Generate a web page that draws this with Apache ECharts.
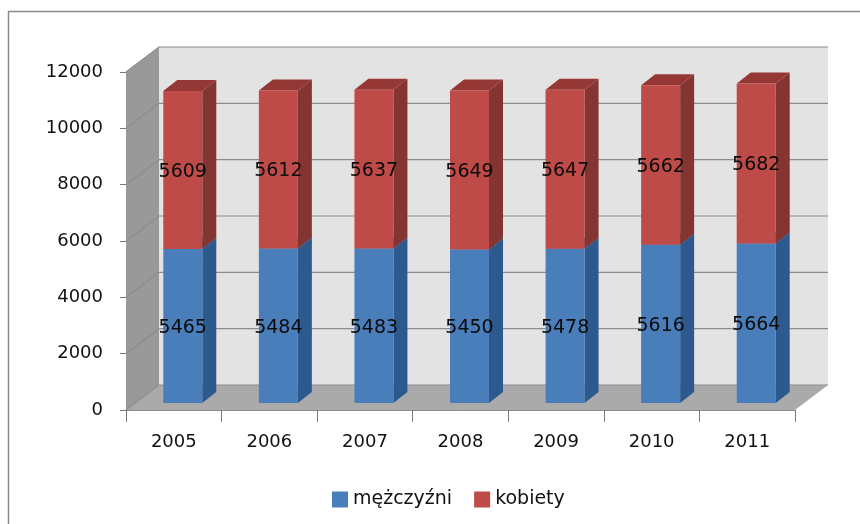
<!DOCTYPE html>
<html>
<head>
<meta charset="utf-8">
<style>
  html, body { margin: 0; padding: 0; background: #fff; }
  #chart { width: 860px; height: 524px; }
</style>
<script src="https://cdn.jsdelivr.net/npm/echarts@6/dist/echarts.min.js"></script>
</head>
<body>
<div id="chart"></div>
<script>
  const years = ['2005', '2006', '2007', '2008', '2009', '2010', '2011'];
  const men = [5465, 5484, 5483, 5450, 5478, 5616, 5664];
  const women = [5609, 5612, 5637, 5649, 5647, 5662, 5682];
  const yTicks = [0, 2000, 4000, 6000, 8000, 10000, 12000];

  const font = '"DejaVu Sans", sans-serif';
  // perspective offsets of the fake 3d box, in pixels
  const wallDx = 33, wallDy = -25;
  const barDx = 9, barDy = -7, barDepthX = 14, barDepthY = -11;
  const barWidth = 39;

  let chart = echarts.init(document.getElementById('chart'));

  function poly(points, fill, z2) {
    return {type: 'polygon', shape: {points}, style: {fill}, z2: z2 || 0};
  }

  function renderWalls(params, api) {
    let r = params.coordSys;
    let l = r.x, t = r.y, b = r.y + r.height, e = r.x + r.width;
    let children = [
      // back wall
      poly([[l + wallDx, t + wallDy], [e + wallDx, t + wallDy], [e + wallDx, b + wallDy], [l + wallDx, b + wallDy]], '#e3e3e3'),
      // left wall
      poly([[l, t], [l + wallDx, t + wallDy], [l + wallDx, b + wallDy], [l, b]], '#999999'),
      // floor
      poly([[l, b], [l + wallDx, b + wallDy], [e + wallDx, b + wallDy], [e, b]], '#aaaaaa'),
    ];
    yTicks.forEach((v) => {
      let y = api.coord([0, v])[1];
      children.push({
        type: 'polyline', z2: 1,
        shape: {points: [[l, y], [l + wallDx, y + wallDy], [e + wallDx, y + wallDy]]},
        style: {fill: 'none', stroke: '#8c8c8c', lineWidth: 1.2},
      });
    });
    return {type: 'group', children};
  }

  function barRenderer(front, side, top) {
    return function (params, api) {
      let idx = api.value(0);
      let low = api.coord([idx, api.value(1)]);
      let high = api.coord([idx, api.value(2)]);
      let x0 = low[0] + barDx - barWidth / 2, x1 = x0 + barWidth;
      let y0 = low[1] + barDy, y1 = high[1] + barDy;
      let dx = barDepthX, dy = barDepthY;
      return {
        type: 'group',
        children: [
          poly([[x1, y0], [x1 + dx, y0 + dy], [x1 + dx, y1 + dy], [x1, y1]], side),
          poly([[x0, y1], [x1, y1], [x1 + dx, y1 + dy], [x0 + dx, y1 + dy]], top),
          poly([[x0, y0], [x1, y0], [x1, y1], [x0, y1]], front),
          {
            type: 'text', z2: 5,
            style: {
              x: (x0 + x1) / 2, y: (y0 + y1) / 2 + 2,
              text: String(api.value(3)),
              fill: '#0c0c0c', font: '19px ' + font, align: 'center', verticalAlign: 'middle',
            },
          },
        ],
      };
    };
  }

  let menData = years.map((y, i) => [i, 0, men[i], men[i]]);
  let womenData = years.map((y, i) => [i, men[i], men[i] + women[i], women[i]]);

  let option = {
    animation: false,
    backgroundColor: '#fff',
    graphic: [
      {type: 'polyline', silent: true, shape: {points: [[8.5, 524], [8.5, 11.5], [860, 11.5]]}, style: {fill: 'none', stroke: '#8a8a8a', lineWidth: 1.5}},
    ],
    legend: {
      data: [
        {name: 'mężczyźni', icon: 'rect'},
        {name: 'kobiety', icon: 'rect'},
      ],
      left: 327, top: 485,
      itemWidth: 16, itemHeight: 16, itemGap: 22,
      textStyle: {fontFamily: font, fontSize: 19, color: '#111'},
    },
    grid: {left: 126, right: 65, top: 72, bottom: 114},
    xAxis: {
      type: 'category',
      data: years,
      axisLine: {lineStyle: {color: '#8c8c8c'}},
      axisTick: {show: true, length: 12, alignWithLabel: false, lineStyle: {color: '#777'}},
      axisLabel: {fontFamily: font, fontSize: 18, color: '#111', margin: 23},
    },
    yAxis: {
      type: 'value',
      min: 0, max: 12000, interval: 2000,
      splitLine: {show: false},
      axisLine: {show: true, lineStyle: {color: '#8c8c8c'}},
      axisTick: {show: true, length: 6, lineStyle: {color: '#777'}},
      axisLabel: {
        fontFamily: font, fontSize: 18, color: '#111', margin: 23, padding: [8, 0, 0, 0],
        formatter: (v) => String(v),
      },
    },
    series: [
      {type: 'custom', name: 'walls', silent: true, z: 1, clip: false, data: [[0, 0]], renderItem: renderWalls},
      {type: 'custom', name: 'mężczyźni', z: 2, clip: false, data: menData, encode: {x: 0, y: 2},
        itemStyle: {color: '#4a7ebb'}, renderItem: barRenderer('#4a7ebb', '#2c5a8e', '#3c6aa0')},
      {type: 'custom', name: 'kobiety', z: 3, clip: false, data: womenData, encode: {x: 0, y: 2},
        itemStyle: {color: '#be4b48'}, renderItem: barRenderer('#be4b48', '#843431', '#953735')},
    ],
  };
  chart.setOption(option);
</script>
</body>
</html>
